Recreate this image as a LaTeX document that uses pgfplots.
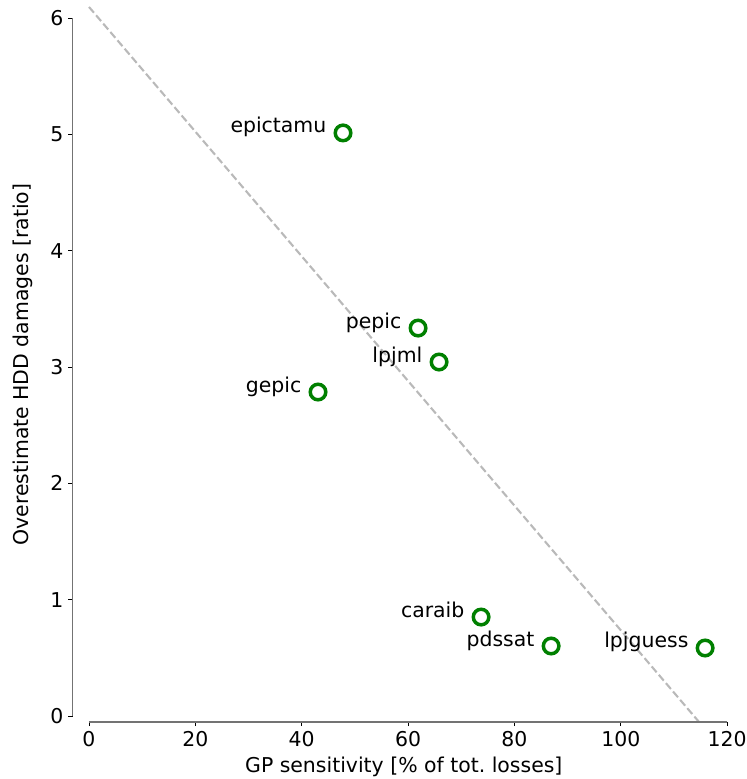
\documentclass[border=0pt]{standalone}
\usepackage{fontspec}
\setmainfont{DejaVu Sans}
\usepackage{pgfplots}
\pgfplotsset{compat=1.18}
\usetikzlibrary{calc}
\definecolor{mplgreen}{HTML}{008000}
\newcommand{\fs}{\fontsize{14.7}{17.6}\selectfont}
\begin{document}
\begin{tikzpicture}
\begin{axis}[
  scale only axis,
  width=477pt, height=514.8pt,
  xmin=-3.1, xmax=121.5, ymin=-0.0516, ymax=6.095,
  axis lines*=left,
  axis line style={draw=none},
  xtick={0,20,40,60,80,100,120},
  ytick={0,1,2,3,4,5,6},
  tick align=outside,
  major tick length=3pt,
  tick style={black, line width=0.7pt},
  /pgf/number format/assume math mode=true,
  ticklabel style={font=\fs},
  xlabel={GP sensitivity [\% of tot.\ losses]},
  ylabel={Overestimate HDD damages [ratio]},
  label style={font=\fs},
  xlabel style={yshift=-0.5pt},
  ylabel style={yshift=5.6pt},
  clip=false,
]
\addplot[draw=lightgray!90!gray, line width=1.5pt, dash pattern=on 5.5pt off 2.4pt, forget plot]
  coordinates {(0,6.095) (114.73,-0.0516)};
\addplot[only marks, mark=*, mark size=5.6pt,
  mark options={draw=mplgreen, fill=white, line width=2.5pt},
  point meta=explicit symbolic,
  nodes near coords,
  every node near coord/.append style={anchor=base east, xshift=-10.8pt, font=\fs, text=black, inner sep=0pt},
] table[meta=label] {
x y label
47.77 5.012 epictamu
61.88 3.335 pepic
65.83 3.043 lpjml
43.07 2.785 gepic
73.73 0.851 caraib
86.90 0.602 pdssat
115.86 0.585 lpjguess
};
\draw[gray!90!black, line width=1.3pt] (axis cs:-3.1,0) -- (axis cs:-3.1,6);
\draw[gray!90!black, line width=1.3pt] (axis cs:0,-0.0516) -- (axis cs:120,-0.0516);
\end{axis}
\pgfresetboundingbox
\useasboundingbox ($(current axis.south west)+(-52.2pt,-41pt)$) rectangle ($(current axis.north east)+(7.9pt,5pt)$);
\end{tikzpicture}
\end{document}
